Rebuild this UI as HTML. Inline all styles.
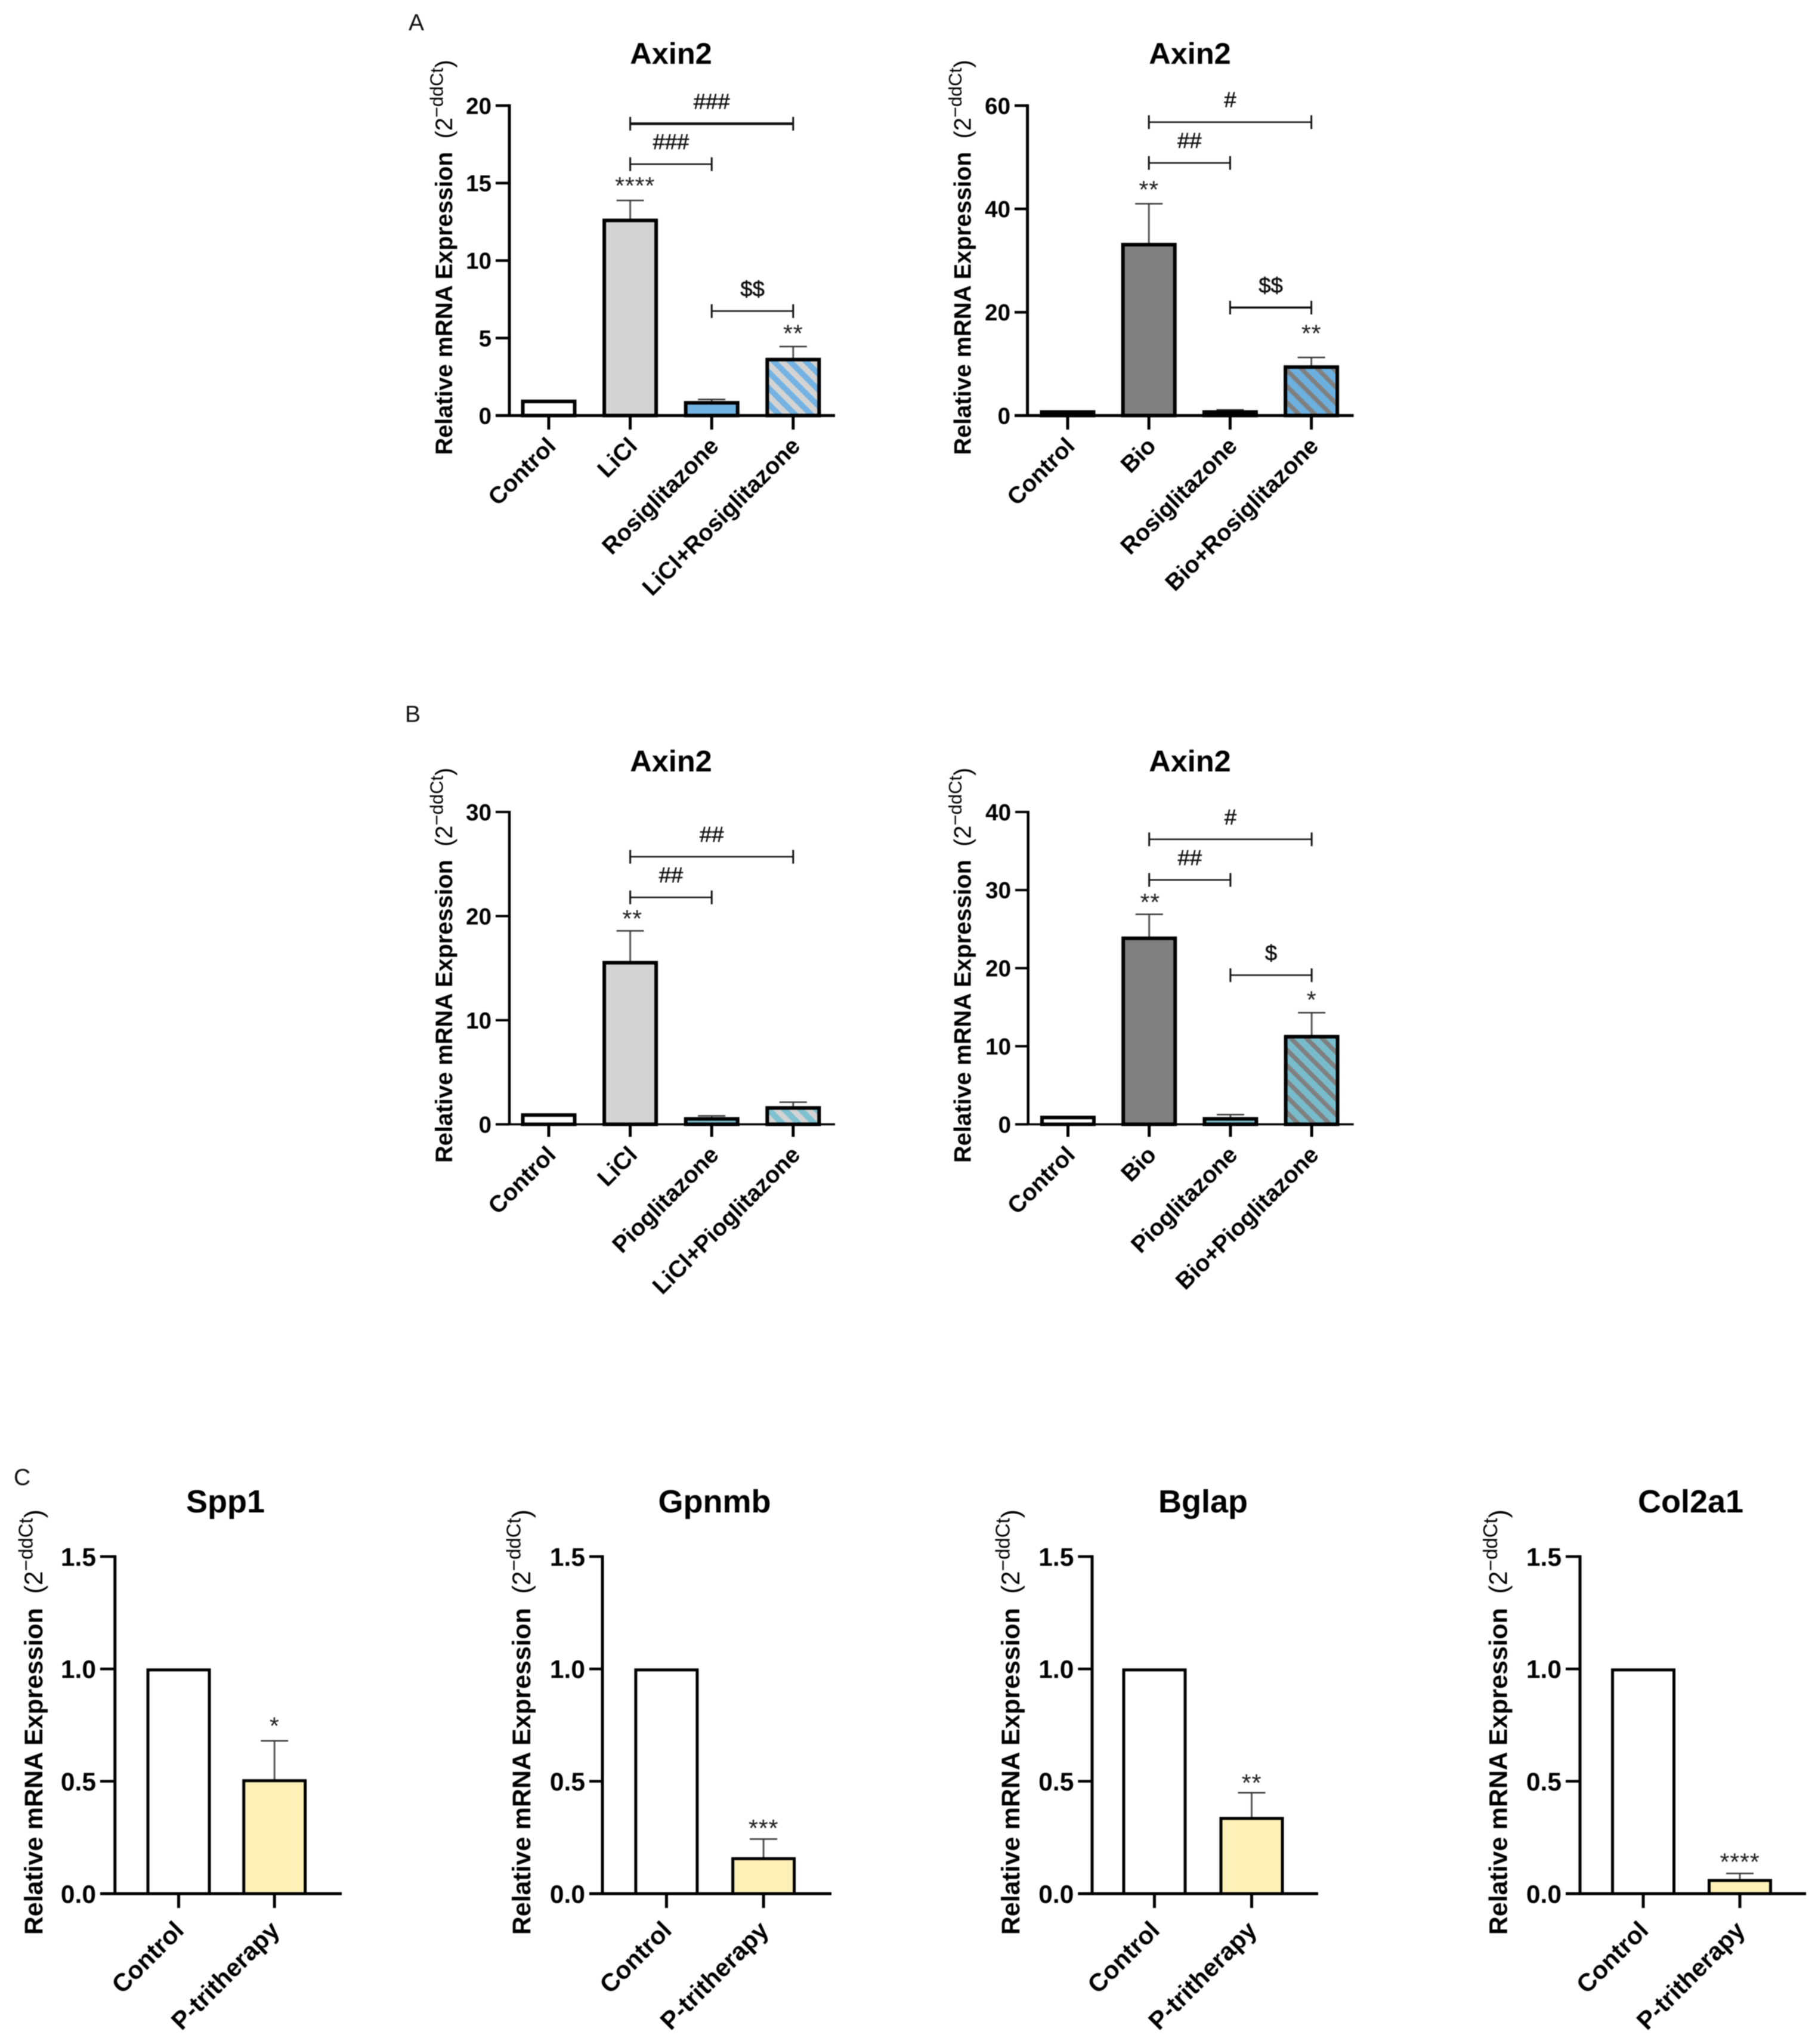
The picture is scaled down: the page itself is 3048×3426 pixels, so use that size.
<!DOCTYPE html>
<html lang="en">
<head>
<meta charset="utf-8">
<title>Axin2 and osteogenic gene expression</title>
<style>
html,body{margin:0;padding:0;background:#fff;}
svg{display:block;font-family:"Liberation Sans",sans-serif;filter:blur(0.7px);}
</style>
</head>
<body>
<svg id="figure" xmlns="http://www.w3.org/2000/svg" width="3048" height="3426" viewBox="0 0 3048 3426">
<defs>
<pattern id="hatch-blue-light" patternUnits="userSpaceOnUse" width="19" height="19" patternTransform="rotate(-45)"><rect width="19" height="19" fill="#73b2e2"/><rect width="9.5" height="19" fill="#d3d3d3"/></pattern>
<pattern id="hatch-blue-grey" patternUnits="userSpaceOnUse" width="19" height="19" patternTransform="rotate(-45)"><rect width="19" height="19" fill="#6cb0e0"/><rect width="7.5" height="19" fill="#808080"/></pattern>
<pattern id="hatch-teal-light" patternUnits="userSpaceOnUse" width="19" height="19" patternTransform="rotate(-45)"><rect width="19" height="19" fill="#7fc1d0"/><rect width="9" height="19" fill="#d3d3d3"/></pattern>
<pattern id="hatch-teal-grey" patternUnits="userSpaceOnUse" width="18.5" height="18.5" patternTransform="rotate(-45)"><rect width="18.5" height="18.5" fill="#78bccc"/><rect width="7.5" height="18.5" fill="#808080"/></pattern>
</defs>
<rect width="3048" height="3426" fill="#fff"/>

<text x="685" y="51" font-size="39" fill="#111">A</text>
<text x="679" y="1210" font-size="39" fill="#111">B</text>
<text x="23" y="2489" font-size="39" fill="#111">C</text>

<g id="chart-a1">
<text x="1125" y="107" font-size="50.5" font-weight="bold" text-anchor="middle">Axin2</text>
<text transform="translate(758,762.5) rotate(-90)" font-size="39.7" font-weight="bold">Relative mRNA Expression<tspan font-weight="normal">&#160;&#160;(2</tspan><tspan font-weight="normal" font-size="31" dy="-15.5">−ddCt</tspan><tspan font-weight="normal" dy="15.5">)</tspan></text>
</g>
<g id="chart-a2">
<text x="1995" y="107" font-size="50.5" font-weight="bold" text-anchor="middle">Axin2</text>
<text transform="translate(1627.5,762.5) rotate(-90)" font-size="39.7" font-weight="bold">Relative mRNA Expression<tspan font-weight="normal">&#160;&#160;(2</tspan><tspan font-weight="normal" font-size="31" dy="-15.5">−ddCt</tspan><tspan font-weight="normal" dy="15.5">)</tspan></text>
</g>
<g id="chart-b1">
<text x="1125" y="1293" font-size="50.5" font-weight="bold" text-anchor="middle">Axin2</text>
<text transform="translate(758,1949) rotate(-90)" font-size="39.7" font-weight="bold">Relative mRNA Expression<tspan font-weight="normal">&#160;&#160;(2</tspan><tspan font-weight="normal" font-size="31" dy="-15.5">−ddCt</tspan><tspan font-weight="normal" dy="15.5">)</tspan></text>
</g>
<g id="chart-b2">
<text x="1995" y="1293" font-size="50.5" font-weight="bold" text-anchor="middle">Axin2</text>
<text transform="translate(1627.5,1949) rotate(-90)" font-size="39.7" font-weight="bold">Relative mRNA Expression<tspan font-weight="normal">&#160;&#160;(2</tspan><tspan font-weight="normal" font-size="31" dy="-15.5">−ddCt</tspan><tspan font-weight="normal" dy="15.5">)</tspan></text>
</g>
<g id="chart-c1">
<text x="378" y="2535" font-size="54" font-weight="bold" text-anchor="middle">Spp1</text>
<text transform="translate(71,3243) rotate(-90)" font-size="42.8" font-weight="bold">Relative mRNA Expression<tspan font-weight="normal">&#160;&#160;(2</tspan><tspan font-weight="normal" font-size="33" dy="-16.5">−ddCt</tspan><tspan font-weight="normal" dy="16.5">)</tspan></text>
</g>
<g id="chart-c2">
<text x="1198" y="2535" font-size="54" font-weight="bold" text-anchor="middle">Gpnmb</text>
<text transform="translate(889,3243) rotate(-90)" font-size="42.8" font-weight="bold">Relative mRNA Expression<tspan font-weight="normal">&#160;&#160;(2</tspan><tspan font-weight="normal" font-size="33" dy="-16.5">−ddCt</tspan><tspan font-weight="normal" dy="16.5">)</tspan></text>
</g>
<g id="chart-c3">
<text x="2017" y="2535" font-size="54" font-weight="bold" text-anchor="middle">Bglap</text>
<text transform="translate(1709,3243) rotate(-90)" font-size="42.8" font-weight="bold">Relative mRNA Expression<tspan font-weight="normal">&#160;&#160;(2</tspan><tspan font-weight="normal" font-size="33" dy="-16.5">−ddCt</tspan><tspan font-weight="normal" dy="16.5">)</tspan></text>
</g>
<g id="chart-c4">
<text x="2834.5" y="2535" font-size="54" font-weight="bold" text-anchor="middle">Col2a1</text>
<text transform="translate(2526.5,3243) rotate(-90)" font-size="42.8" font-weight="bold">Relative mRNA Expression<tspan font-weight="normal">&#160;&#160;(2</tspan><tspan font-weight="normal" font-size="33" dy="-16.5">−ddCt</tspan><tspan font-weight="normal" dy="16.5">)</tspan></text>
</g>
</svg>

<script>
// ---- Panel A, left ----
const a1Categories = ['Control', 'LiCl', 'Rosiglitazone', 'LiCl+Rosiglitazone'];
const a1Values = [0.95, 12.63, 0.86, 3.65];
const a1Errors = [0, 1.25, 0.18, 0.8];
const a1Ticks = [0, 5, 10, 15, 20];
const a1Stars = ['', '****', '', '**'];
const a1StarLevels = [0, 15.05, 0, 5.52];
const a1BracketStarts = [1, 1, 2];
const a1BracketEnds = [3, 2, 3];
const a1BracketLevels = [18.83, 16.22, 6.74];
const a1BracketLabels = ['###', '###', '$$'];

// ---- Panel A, right ----
const a2Categories = ['Control', 'Bio', 'Rosiglitazone', 'Bio+Rosiglitazone'];
const a2Values = [0.8, 33.2, 0.8, 9.5];
const a2Errors = [0, 7.8, 0.3, 1.75];
const a2Ticks = [0, 20, 40, 60];
const a2Stars = ['', '**', '', '**'];
const a2StarLevels = [0, 44.4, 0, 16.6];
const a2BracketStarts = [1, 1, 2];
const a2BracketEnds = [3, 2, 3];
const a2BracketLevels = [56.8, 48.9, 20.9];
const a2BracketLabels = ['#', '##', '$$'];

// ---- Panel B, left ----
const b1Categories = ['Control', 'LiCl', 'Pioglitazone', 'LiCl+Pioglitazone'];
const b1Values = [0.95, 15.58, 0.58, 1.63];
const b1Errors = [0, 3, 0.23, 0.5];
const b1Ticks = [0, 10, 20, 30];
const b1Stars = ['', '**', '', ''];
const b1StarLevels = [0, 20.08, 0, 0];
const b1BracketStarts = [1, 1];
const b1BracketEnds = [3, 2];
const b1BracketLevels = [25.7, 21.8];
const b1BracketLabels = ['##', '##'];

// ---- Panel B, right ----
const b2Categories = ['Control', 'Bio', 'Pioglitazone', 'Bio+Pioglitazone'];
const b2Values = [0.95, 23.9, 0.78, 11.3];
const b2Errors = [0, 3, 0.46, 3];
const b2Ticks = [0, 10, 20, 30, 40];
const b2Stars = ['', '**', '', '*'];
const b2StarLevels = [0, 28.9, 0, 16.4];
const b2BracketStarts = [1, 1, 2];
const b2BracketEnds = [3, 2, 3];
const b2BracketLevels = [36.5, 31.3, 19.1];
const b2BracketLabels = ['#', '##', '$'];

// ---- Panel C ----
const cCategories = ['Control', 'P-tritherapy'];
const cTicks = [0, 0.5, 1, 1.5];
const c1Values = [0.997, 0.504];
const c1Errors = [0, 0.176];
const c1Stars = ['', '*'];
const c1StarLevels = [0, 0.762];
const c2Values = [0.997, 0.157];
const c2Errors = [0, 0.086];
const c2Stars = ['', '***'];
const c2StarLevels = [0, 0.306];
const c3Values = [0.997, 0.336];
const c3Errors = [0, 0.113];
const c3Stars = ['', '**'];
const c3StarLevels = [0, 0.509];
const c4Values = [0.997, 0.06];
const c4Errors = [0, 0.03];
const c4Stars = ['', '****'];
const c4StarLevels = [0, 0.157];

const layoutA = {zero: 696.5, top: 177, half: 43.5, stroke: 6, axisW: 5, xAxisW: 5, tickW: 4.5, catTickW: 5, tickLen: 23.5, tickFont: 38.5, catFont: 39.5, catDx: 14, catDy: 53.5, capH: 11.5, decimals: 0};
const layoutB = {zero: 1884.5, top: 1361, half: 43.5, stroke: 6, axisW: 4.5, xAxisW: 3.5, tickW: 4, catTickW: 5, tickLen: 21, tickFont: 38.5, catFont: 39.5, catDx: 14, catDy: 53.5, capH: 11.5, decimals: 0};
const layoutC = {zero: 3174, top: 2609, half: 51.5, stroke: 5, axisW: 5, xAxisW: 5, tickW: 4.5, catTickW: 5, tickLen: 24, tickFont: 42.5, catFont: 42, catDx: 11, catDy: 64, capH: 0, decimals: 1};

const panels = [
  {id: 'chart-a1', layout: layoutA, axisX: 854, tickLeft: 831, right: 1400, firstCenter: 920, step: 136.6, starShift: [0, 8, 0, 0],
   categories: a1Categories, values: a1Values, errors: a1Errors, ticks: a1Ticks, stars: a1Stars, starLevels: a1StarLevels,
   bracketStarts: a1BracketStarts, bracketEnds: a1BracketEnds, bracketLevels: a1BracketLevels, bracketLabels: a1BracketLabels, bracketWidths: [4.5, 2.5, 2.5],
   fills: ['#ffffff', '#d3d3d3', '#70b2e2', 'url(#hatch-blue-light)']},
  {id: 'chart-a2', layout: layoutA, axisX: 1722.6, tickLeft: 1701, right: 2269.6, firstCenter: 1790, step: 136.2, starShift: [0, 0, 0, 0],
   categories: a2Categories, values: a2Values, errors: a2Errors, ticks: a2Ticks, stars: a2Stars, starLevels: a2StarLevels,
   bracketStarts: a2BracketStarts, bracketEnds: a2BracketEnds, bracketLevels: a2BracketLevels, bracketLabels: a2BracketLabels, bracketWidths: [2.5, 2.5, 3.5],
   fills: ['#ffffff', '#808080', '#70b2e2', 'url(#hatch-blue-grey)']},
  {id: 'chart-b1', layout: layoutB, axisX: 854, tickLeft: 831, right: 1400, firstCenter: 920, step: 136.6, starShift: [0, 3.5, 0, 0],
   categories: b1Categories, values: b1Values, errors: b1Errors, ticks: b1Ticks, stars: b1Stars, starLevels: b1StarLevels,
   bracketStarts: b1BracketStarts, bracketEnds: b1BracketEnds, bracketLevels: b1BracketLevels, bracketLabels: b1BracketLabels, bracketWidths: [2.5, 2.5],
   fills: ['#ffffff', '#d3d3d3', '#7fc1d0', 'url(#hatch-teal-light)']},
  {id: 'chart-b2', layout: layoutB, axisX: 1723.7, tickLeft: 1702, right: 2269.6, firstCenter: 1790.5, step: 136.2, starShift: [0, 1.5, 0, 0],
   categories: b2Categories, values: b2Values, errors: b2Errors, ticks: b2Ticks, stars: b2Stars, starLevels: b2StarLevels,
   bracketStarts: b2BracketStarts, bracketEnds: b2BracketEnds, bracketLevels: b2BracketLevels, bracketLabels: b2BracketLabels, bracketWidths: [2.5, 2.5, 2.5],
   fills: ['#ffffff', '#808080', '#7fc1d0', 'url(#hatch-teal-grey)']},
  {id: 'chart-c1', layout: layoutC, axisX: 192.7, tickLeft: 168, right: 573, firstCenter: 299.5, step: 160.7, starShift: [0, 0],
   categories: cCategories, values: c1Values, errors: c1Errors, ticks: cTicks, stars: c1Stars, starLevels: c1StarLevels,
   bracketStarts: [], bracketEnds: [], bracketLevels: [], bracketLabels: [], bracketWidths: [],
   fills: ['#ffffff', '#fdf1b8']},
  {id: 'chart-c2', layout: layoutC, axisX: 1010, tickLeft: 988, right: 1394, firstCenter: 1117.4, step: 162.7, starShift: [0, 0],
   categories: cCategories, values: c2Values, errors: c2Errors, ticks: cTicks, stars: c2Stars, starLevels: c2StarLevels,
   bracketStarts: [], bracketEnds: [], bracketLevels: [], bracketLabels: [], bracketWidths: [],
   fills: ['#ffffff', '#fdf1b8']},
  {id: 'chart-c3', layout: layoutC, axisX: 1831, tickLeft: 1807.4, right: 2210, firstCenter: 1935.5, step: 163, starShift: [0, 0],
   categories: cCategories, values: c3Values, errors: c3Errors, ticks: cTicks, stars: c3Stars, starLevels: c3StarLevels,
   bracketStarts: [], bracketEnds: [], bracketLevels: [], bracketLabels: [], bracketWidths: [],
   fills: ['#ffffff', '#fdf1b8']},
  {id: 'chart-c4', layout: layoutC, axisX: 2649, tickLeft: 2625, right: 3028, firstCenter: 2755, step: 162, starShift: [0, 0],
   categories: cCategories, values: c4Values, errors: c4Errors, ticks: cTicks, stars: c4Stars, starLevels: c4StarLevels,
   bracketStarts: [], bracketEnds: [], bracketLevels: [], bracketLabels: [], bracketWidths: [],
   fills: ['#ffffff', '#fdf1b8']}
];

const NS = 'http://www.w3.org/2000/svg';

function makeLine(parent, x1, y1, x2, y2, width, color) {
  const el = document.createElementNS(NS, 'line');
  el.setAttribute('x1', x1);
  el.setAttribute('y1', y1);
  el.setAttribute('x2', x2);
  el.setAttribute('y2', y2);
  el.setAttribute('stroke', color);
  el.setAttribute('stroke-width', width);
  parent.appendChild(el);
  return el;
}

function makeText(parent, x, y, str, size, anchor, weight, color) {
  const el = document.createElementNS(NS, 'text');
  el.setAttribute('x', x);
  el.setAttribute('y', y);
  el.setAttribute('font-size', size);
  el.setAttribute('text-anchor', anchor);
  el.setAttribute('font-weight', weight);
  el.setAttribute('fill', color);
  el.textContent = str;
  parent.appendChild(el);
  return el;
}

function drawPanel(p) {
  const g = document.getElementById(p.id);
  const L = p.layout;
  const yMax = p.ticks[p.ticks.length - 1];
  const yScale = function (v) { return L.zero - (v / yMax) * (L.zero - L.top); };
  const xScale = function (i) { return p.firstCenter + i * p.step; };

  // error bars, behind the bars
  p.values.forEach(function (v, i) {
    if (!p.errors[i]) return;
    const c = xScale(i);
    const yTop = yScale(v + p.errors[i]);
    const stem = makeLine(g, c, yScale(v), c, yTop, 3, '#555');
    
    
    const cap = makeLine(g, c - 23, yTop, c + 23, yTop, 2.5, '#333');
    
    
  });

  // bars
  p.values.forEach(function (v, i) {
    const c = xScale(i);
    const yTop = yScale(v) + L.stroke / 2 - 2;
    const bar = document.createElementNS(NS, 'rect');
    bar.setAttribute('x', c - L.half);
    bar.setAttribute('y', yTop);
    bar.setAttribute('width', L.half * 2);
    bar.setAttribute('height', Math.max(0, L.zero - yTop));
    bar.setAttribute('fill', p.fills[i]);
    bar.setAttribute('stroke', '#000');
    bar.setAttribute('stroke-width', L.stroke);
    
    
    g.appendChild(bar);
  });

  // y axis
  const yAxis = makeLine(g, p.axisX, L.top - L.tickW / 2, p.axisX, L.zero, L.axisW, '#000');
  
  
  p.ticks.forEach(function (t) {
    const y = yScale(t);
    const tick = makeLine(g, p.tickLeft, y, p.axisX, y, L.tickW, '#000');
    
    
    const label = makeText(g, p.tickLeft - 7, y + L.tickFont * 0.36, t.toFixed(L.decimals), L.tickFont, 'end', 'bold', '#000');
    
    
  });

  // x axis
  const xAxis = makeLine(g, p.tickLeft, L.zero, p.right, L.zero, L.xAxisW, '#000');
  
  
  p.categories.forEach(function (name, i) {
    const c = xScale(i);
    const tick = makeLine(g, c, L.zero, c, L.zero + L.tickLen, L.catTickW, '#000');
    
    
    const label = makeText(g, 0, 0, name, L.catFont, 'end', 'bold', '#000');
    label.setAttribute('transform', 'translate(' + (c + L.catDx) + ',' + (L.zero + L.catDy) + ') rotate(-45)');
    
    
  });

  // significance stars
  p.stars.forEach(function (s, i) {
    if (!s) return;
    const star = makeText(g, xScale(i) + p.starShift[i], yScale(p.starLevels[i]) + 19.5, s, 41, 'middle', 'normal', '#222');
    star.setAttribute('letter-spacing', '0.8');
    
    
  });

  // comparison brackets
  p.bracketLevels.forEach(function (lvl, i) {
    const y = yScale(lvl);
    const x1 = xScale(p.bracketStarts[i]);
    const x2 = xScale(p.bracketEnds[i]);
    const w = p.bracketWidths[i];
    const bar = makeLine(g, x1, y, x2, y, w, '#111');
    
    
    const capA = makeLine(g, x1, y - L.capH, x1, y + L.capH, 3, '#111');
    
    
    const capB = makeLine(g, x2, y - L.capH, x2, y + L.capH, 3, '#111');
    
    
    const label = makeText(g, (x1 + x2) / 2, y - 25, p.bracketLabels[i], 36.5, 'middle', 'normal', '#111');
    label.setAttribute('stroke', '#111');
    label.setAttribute('stroke-width', '0.6');
    
    
  });
}

panels.forEach(drawPanel);
</script>
</body>
</html>
